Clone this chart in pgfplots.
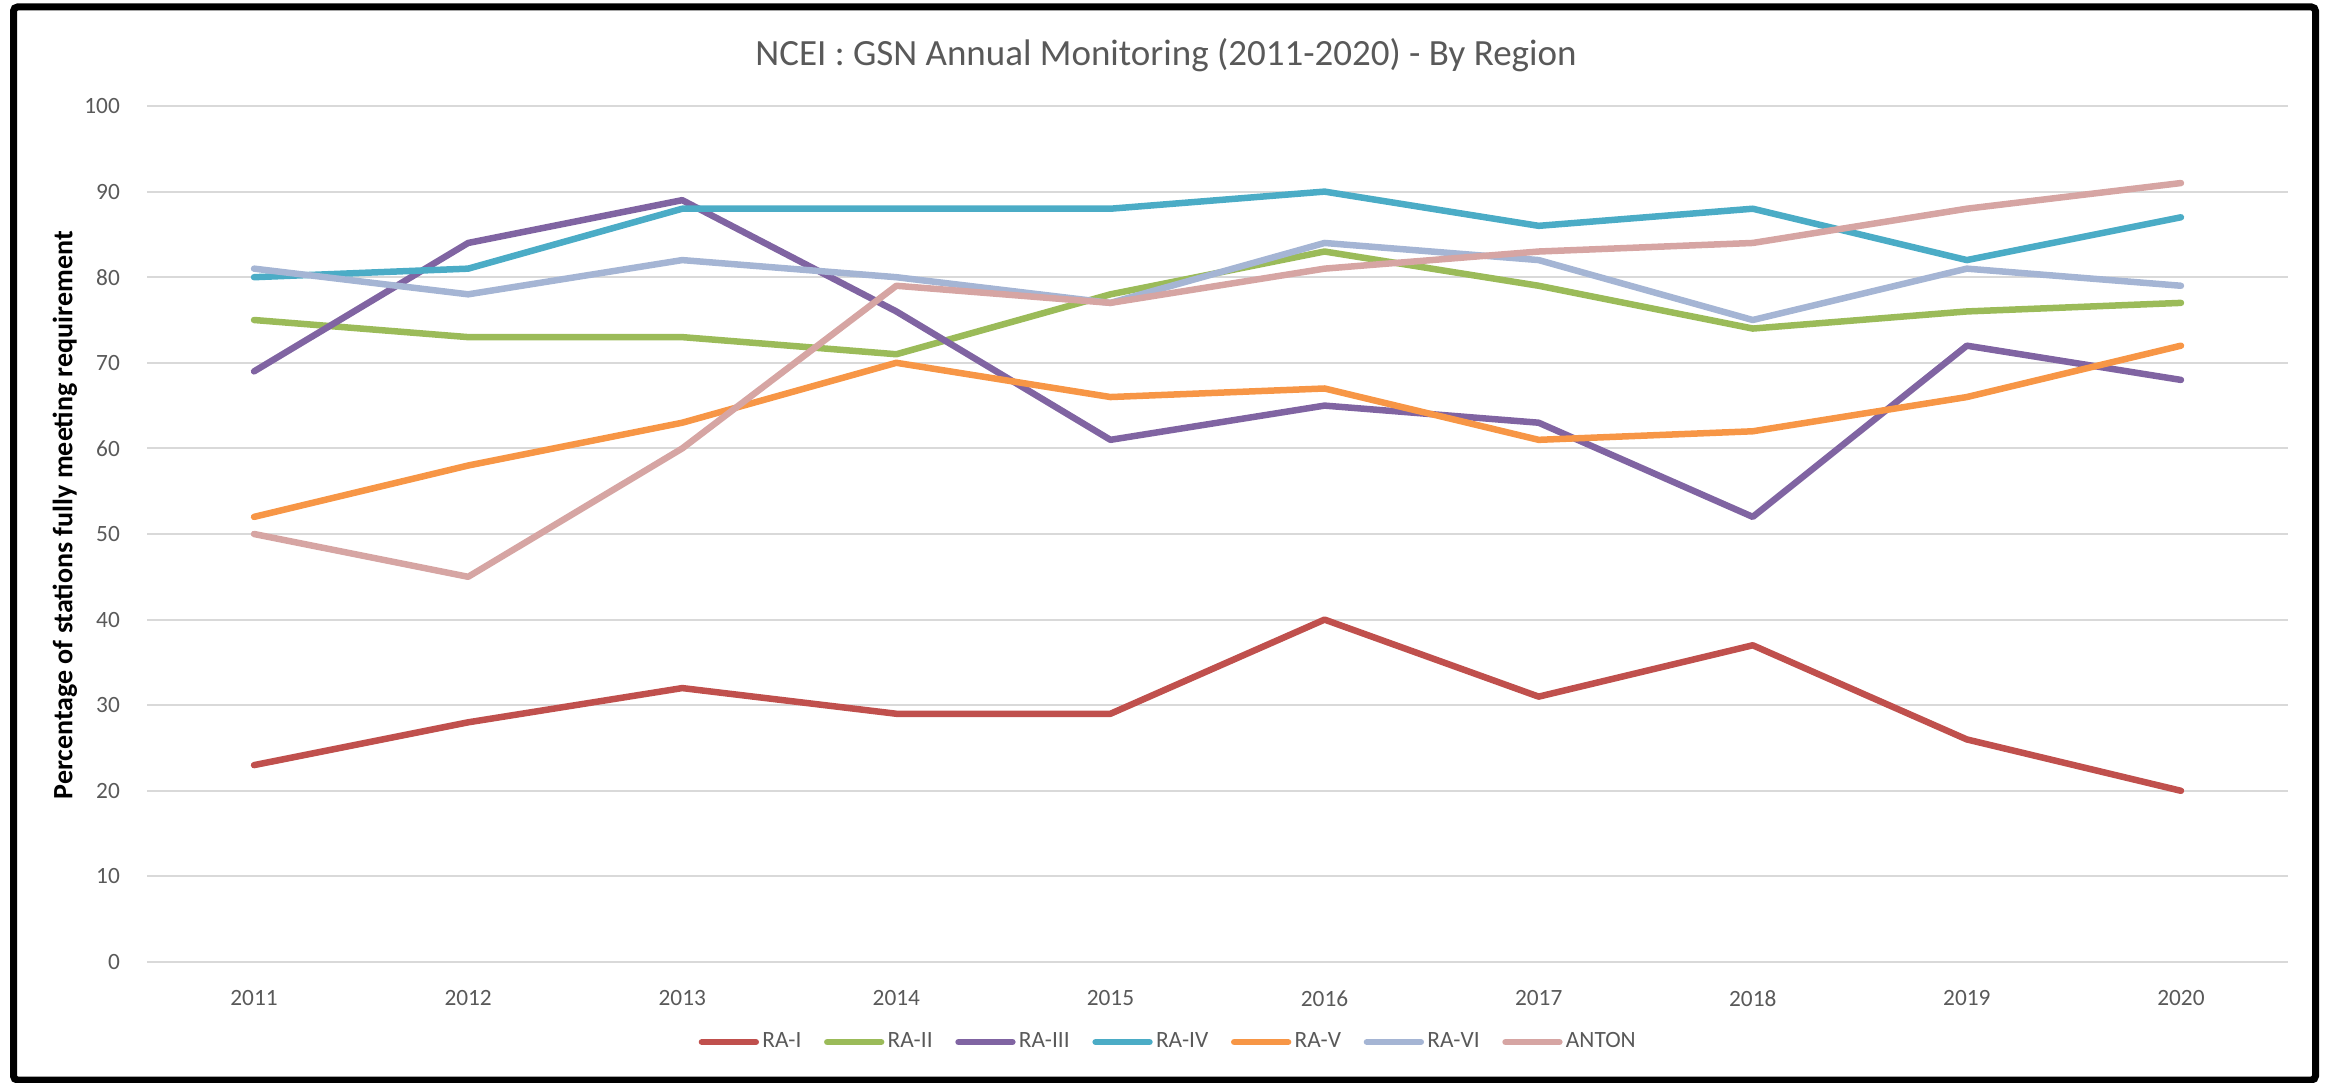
\documentclass[border=0pt]{standalone}
\usepackage{fontspec}
\setmainfont{Carlito}
\usepackage{pgfplots}
\pgfplotsset{compat=1.18}
\definecolor{cRAI}{HTML}{C0504D}
\definecolor{cRAII}{HTML}{9BBB59}
\definecolor{cRAIII}{HTML}{8064A2}
\definecolor{cRAIV}{HTML}{4BACC6}
\definecolor{cRAV}{HTML}{F79646}
\definecolor{cRAVI}{HTML}{A5B5D4}
\definecolor{cANTON}{HTML}{D6A5A3}
\definecolor{txtgray}{HTML}{595959}
\definecolor{gridgray}{HTML}{D9D9D9}
\begin{document}
\begin{tikzpicture}
\useasboundingbox (0,0) rectangle (699.9pt,324.6pt);
\begin{axis}[
  at={(44.1pt,36pt)}, anchor=south west,
  width=642.3pt, height=256.8pt, scale only axis,
  xmin=-0.5, xmax=9.5, ymin=0, ymax=100,
  xtick={0,1,2,3,4,5,6,7,8,9},
  xticklabels={2011,2012,2013,2014,2015,2016,2017,2018,2019,2020},
  ytick={0,10,20,30,40,50,60,70,80,90,100},
  axis line style={draw=none},
  major tick length=0pt,
  ymajorgrids,
  grid style={color=gridgray, line width=0.6pt},
  /pgf/number format/assume math mode=true,
  tick label style={font=\fontsize{7pt}{8pt}\selectfont, color=txtgray},
  yticklabel style={xshift=-4.6pt},
  xticklabel style={yshift=-5pt},
  legend columns=-1,
  legend style={at={(axis description cs:0.4773,-0.0935)}, anchor=center, draw=none, fill=none,
    font=\fontsize{7pt}{8pt}\selectfont, text=txtgray,
    /tikz/every even column/.append style={column sep=5.8pt},
    nodes={inner xsep=1pt}},
  legend image code/.code={\draw[#1, line width=1.9pt, line cap=round] (0pt,0pt) -- (16.2pt,0pt);},
  every axis plot/.append style={line width=1.95pt, line join=round, line cap=round},
]
\addplot[color=cRAI] coordinates {(0,23)(1,28)(2,32)(3,29)(4,29)(5,40)(6,31)(7,37)(8,26)(9,20)};
\addlegendentry{RA-I}
\addplot[color=cRAII] coordinates {(0,75)(1,73)(2,73)(3,71)(4,78)(5,83)(6,79)(7,74)(8,76)(9,77)};
\addlegendentry{RA-II}
\addplot[color=cRAIII] coordinates {(0,69)(1,84)(2,89)(3,76)(4,61)(5,65)(6,63)(7,52)(8,72)(9,68)};
\addlegendentry{RA-III}
\addplot[color=cRAIV] coordinates {(0,80)(1,81)(2,88)(3,88)(4,88)(5,90)(6,86)(7,88)(8,82)(9,87)};
\addlegendentry{RA-IV}
\addplot[color=cRAV] coordinates {(0,52)(1,58)(2,63)(3,70)(4,66)(5,67)(6,61)(7,62)(8,66)(9,72)};
\addlegendentry{RA-V}
\addplot[color=cRAVI] coordinates {(0,81)(1,78)(2,82)(3,80)(4,77)(5,84)(6,82)(7,75)(8,81)(9,79)};
\addlegendentry{RA-VI}
\addplot[color=cANTON] coordinates {(0,50)(1,45)(2,60)(3,79)(4,77)(5,81)(6,83)(7,84)(8,88)(9,91)};
\addlegendentry{ANTON}
\end{axis}
\node[font=\fontsize{11.1pt}{13pt}\selectfont, text=txtgray] at (349.8pt,308.1pt) {NCEI : GSN Annual Monitoring (2011-2020) - By Region};
\node[font=\bfseries\fontsize{8.4pt}{10pt}\selectfont, rotate=90] at (19.5pt,170pt) {Percentage of stations fully meeting requirement};
\draw[line width=2.1pt, rounded corners=1.2pt] (4.05pt,0.6pt) rectangle (694.65pt,322.5pt);
\end{tikzpicture}
\end{document}
